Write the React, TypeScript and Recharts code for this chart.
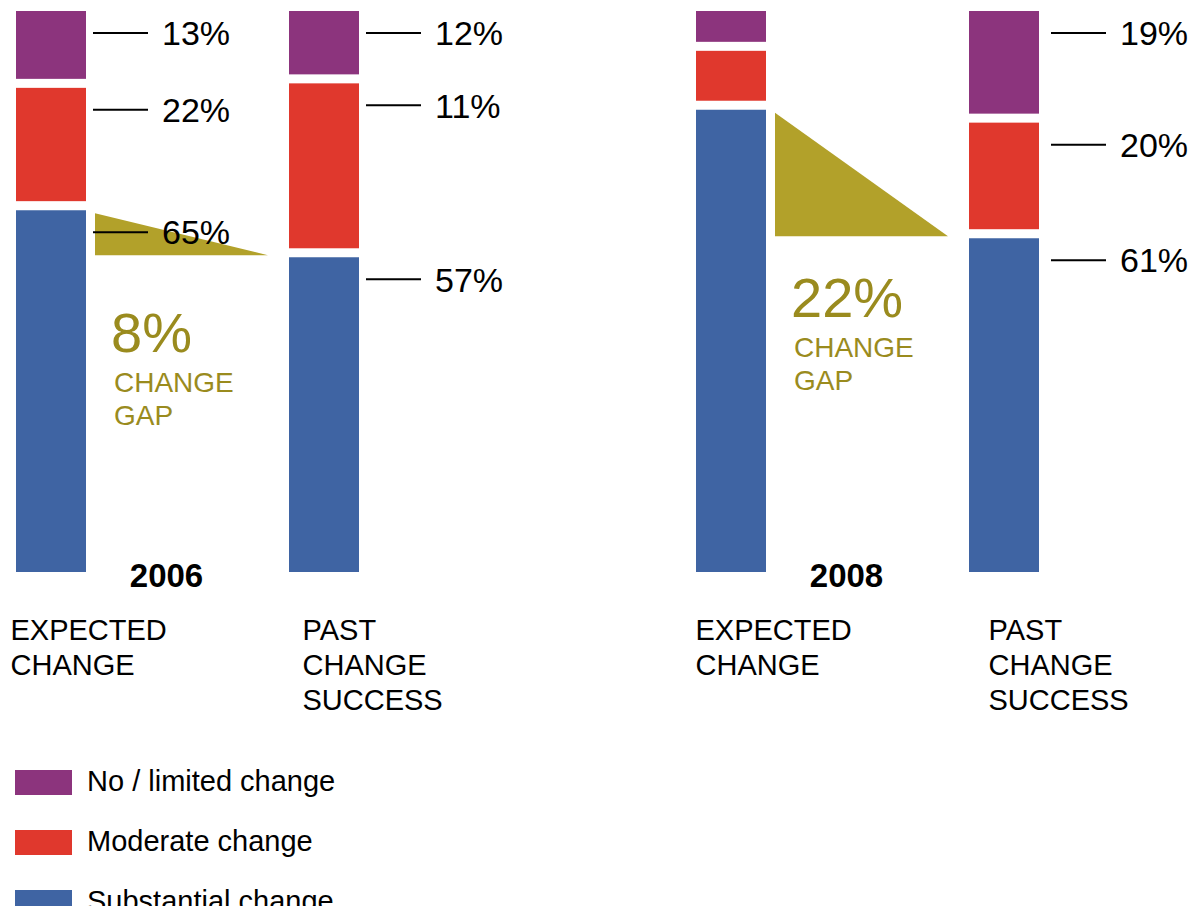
import { Bar, BarChart, Legend, XAxis, YAxis } from "recharts";

const categories = ["EXPECTED\nCHANGE", "PAST\nCHANGE\nSUCCESS"];
const seriesNames = ["Substantial change", "Moderate change", "No / limited change"];
const COLORS = ["#3F64A3", "#E0382D", "#8C347D"];
const GAP_FILL = "#B2A12A";
const GAP_TEXT = "#9A8B1E";
const FONT = '"Liberation Sans", Arial, Helvetica, sans-serif';

// segment heights as drawn (share of each column)
const substantial2006 = [64.5, 56.1];
const moderate2006 = [21.8, 31.0];
const limited2006 = [13.7, 12.9];
const substantial2008 = [82.4, 59.5];
const moderate2008 = [10.5, 20.6];
const limited2008 = [7.1, 19.9];

// printed labels next to the columns
const substantialText2006 = ["65%", "57%"];
const moderateText2006 = ["22%", "11%"];
const limitedText2006 = ["13%", "12%"];
const substantialText2008 = ["", "61%"];
const moderateText2008 = ["", "20%"];
const limitedText2008 = ["", "19%"];

const gapText2006 = "8%";
const gapText2008 = "22%";

const SEG_GAP = 9; // white space between stacked segments

const box = (p: any) => {
  const vb = p.viewBox ?? p;
  return { x: vb.x ?? p.x, y: vb.y ?? p.y, width: vb.width ?? p.width, height: vb.height ?? p.height };
};

const gapShape = (p: any) => (
  <rect x={p.x} y={p.y} width={p.width} height={Math.max(0, p.height - SEG_GAP)} fill={p.fill} />
);

function PercentTag({ x, y, text, dx = 0 }: { x: number; y: number; text: string; dx?: number }) {
  const ly = y + 22;
  return (
    <g>
      <line x1={x + 7 + dx} x2={x + 62 + dx} y1={ly} y2={ly} stroke="#000" strokeWidth={2} />
      <text x={x + 76 + dx} y={ly} dy="0.36em" fontSize={34} fill="#000" fontFamily={FONT}>
        {text}
      </text>
    </g>
  );
}

const segmentLabel = (texts: string[], dx: number) => (p: any) => {
  const i = p.index ?? 0;
  const t = texts[i];
  if (!t) return null;
  const b = box(p);
  return <PercentTag x={b.x + b.width} y={b.y} text={t} dx={dx} />;
};

// blue segment label: also draws the change-gap wedge beside the expected column
const substantialLabel = (
  texts: string[],
  values: number[],
  gapText: string,
  dx: number,
  gapDy: number
) => (p: any) => {
  const i = p.index ?? 0;
  const b = box(p);
  const right = b.x + b.width;
  const tag = texts[i] ? <PercentTag x={right} y={b.y} text={texts[i]} dx={dx} /> : null;
  if (i !== 0) return tag;
  const bottom = b.y + b.height;
  const perUnit = b.height / values[0];
  const pastTop = bottom - values[1] * perUnit;
  const baseline = pastTop + gapDy;
  return (
    <g>
      <polygon
        points={`${right + 9},${b.y + 3} ${right + 9},${pastTop - 2} ${right + 182},${pastTop - 2}`}
        fill={GAP_FILL}
      />
      {tag}
      <text x={right + 25} y={baseline} fontSize={56} fill={GAP_TEXT} fontFamily={FONT}>
        {gapText}
      </text>
      <text x={right + 28} y={baseline + 40} fontSize={28} fill={GAP_TEXT} fontFamily={FONT}>
        CHANGE
      </text>
      <text x={right + 28} y={baseline + 73} fontSize={28} fill={GAP_TEXT} fontFamily={FONT}>
        GAP
      </text>
    </g>
  );
};

function CategoryTick(props: any) {
  const { x, y, payload, year, tickDx } = props;
  const index = payload?.index ?? props.index ?? 0;
  const lines = String(payload.value).split("\n");
  return (
    <g>
      {lines.map((l, k) => (
        <text key={k} x={x + tickDx[index]} y={y + 68 + k * 35} fontSize={29} fill="#000" fontFamily={FONT}>
          {l}
        </text>
      ))}
      {index === 0 && (
        <text x={x + 116} y={y + 15} fontSize={33} fontWeight="bold" fill="#000" textAnchor="middle" fontFamily={FONT}>
          {year}
        </text>
      )}
    </g>
  );
}

function LegendBox() {
  const order = [2, 1, 0];
  return (
    <div style={{ fontFamily: FONT }}>
      {order.map((k, i) => (
        <div key={k} style={{ position: "relative", height: 25, marginBottom: i < 2 ? 35 : 0 }}>
          <span style={{ position: "absolute", left: 0, top: 0, width: 57, height: 25, background: COLORS[k] }} />
          <span
            style={{
              position: "absolute",
              left: 72,
              top: -4,
              fontSize: 29,
              color: "#000",
              lineHeight: "30px",
              whiteSpace: "nowrap",
            }}
          >
            {seriesNames[k]}
          </span>
        </div>
      ))}
    </div>
  );
}

type PanelProps = {
  year: string;
  left: number;
  substantial: number[];
  moderate: number[];
  limited: number[];
  substantialText: string[];
  moderateText: string[];
  limitedText: string[];
  gapText: string;
  tagDx: number;
  gapDy: number;
  tickDx: number[];
  legend?: boolean;
};

function Panel(props: PanelProps) {
  const data = categories.map((name, i) => ({
    name,
    substantial: props.substantial[i],
    moderate: props.moderate[i],
    limited: props.limited[i],
  }));
  return (
    <div style={{ position: "absolute", left: props.left, top: 0 }}>
      <BarChart
        width={696}
        height={914}
        data={data}
        margin={{ top: 11, right: 150, bottom: 0, left: 0 }}
        barSize={70}
      >
        <YAxis hide domain={[0, 100]} />
        <XAxis
          dataKey="name"
          height={342}
          axisLine={false}
          tickLine={false}
          tickSize={0}
          tickMargin={0}
          interval={0}
          tick={(p: any) => <CategoryTick {...p} year={props.year} tickDx={props.tickDx} />}
        />
        <Bar
          dataKey="substantial"
          name={seriesNames[0]}
          stackId="a"
          fill={COLORS[0]}
          isAnimationActive={false}
          label={substantialLabel(props.substantialText, props.substantial, props.gapText, props.tagDx, props.gapDy)}
        />
        <Bar
          dataKey="moderate"
          name={seriesNames[1]}
          stackId="a"
          fill={COLORS[1]}
          shape={gapShape}
          isAnimationActive={false}
          label={segmentLabel(props.moderateText, props.tagDx)}
        />
        <Bar
          dataKey="limited"
          name={seriesNames[2]}
          stackId="a"
          fill={COLORS[2]}
          shape={gapShape}
          isAnimationActive={false}
          label={segmentLabel(props.limitedText, props.tagDx)}
        />
        {props.legend && (
          <Legend
            layout="horizontal"
            verticalAlign="middle"
            align="center"
            wrapperStyle={{ left: 101.5, top: 770, width: 420, height: 145 }}
            content={() => <LegendBox />}
          />
        )}
      </BarChart>
    </div>
  );
}

export default function App() {
  return (
    <div
      style={{
        position: "relative",
        width: 1200,
        height: 914,
        margin: -8,
        overflow: "hidden",
        background: "#fff",
        fontFamily: FONT,
      }}
    >
      <Panel
        year="2006"
        left={-86.5}
        substantial={substantial2006}
        moderate={moderate2006}
        limited={limited2006}
        substantialText={substantialText2006}
        moderateText={moderateText2006}
        limitedText={limitedText2006}
        gapText={gapText2006}
        tagDx={0}
        gapDy={95}
        tickDx={[-40, -21]}
        legend
      />
      <Panel
        year="2008"
        left={594}
        substantial={substantial2008}
        moderate={moderate2008}
        limited={limited2008}
        substantialText={substantialText2008}
        moderateText={moderateText2008}
        limitedText={limitedText2008}
        gapText={gapText2008}
        tagDx={5}
        gapDy={79}
        tickDx={[-35, -15]}
      />
    </div>
  );
}
